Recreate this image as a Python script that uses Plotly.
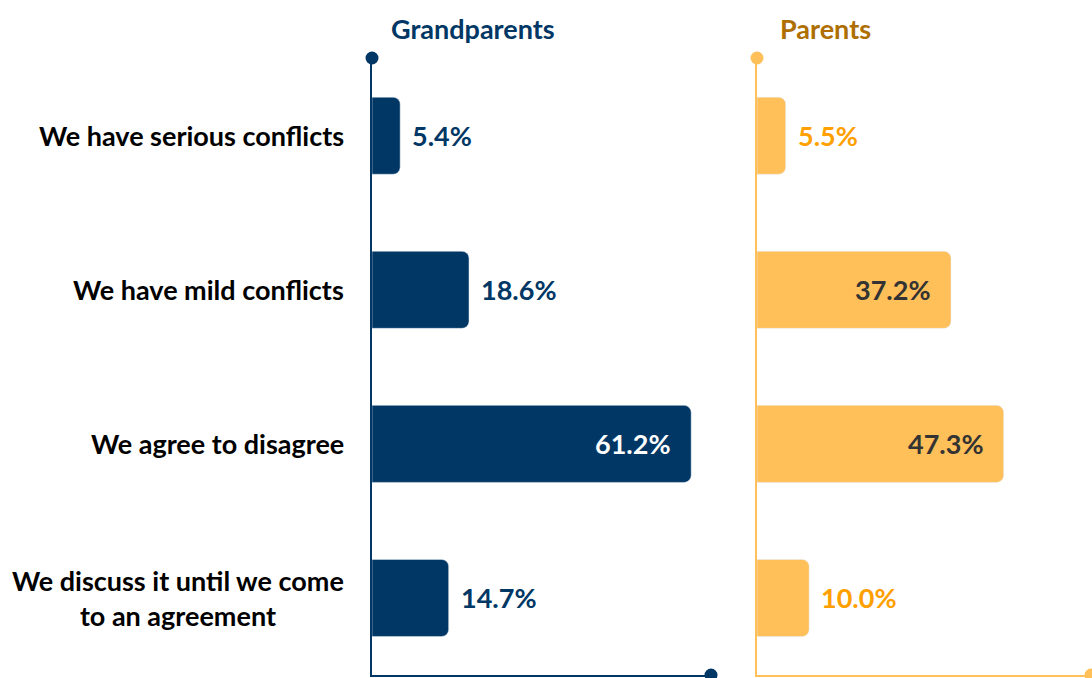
import plotly.graph_objects as go

categories = ["We have serious conflicts", "We have mild conflicts", "We agree to disagree",
              "We discuss it until we come<br>to an agreement"]
grandparents = [5.4, 18.6, 61.2, 14.7]
parents = [5.5, 37.2, 47.3, 10.0]
labels_gp = [f"{v:.1f}%" for v in grandparents]
labels_p = [f"{v:.1f}%" for v in parents]
inside_gp = [False, False, True, False]
inside_p = [False, True, True, False]

NAVY = "#003764"
YELLOW = "#FFBF59"
ORANGE = "#FFA000"
BROWN = "#AE6F00"
FONT = "Lato"
FS = 27

W, H = 1092, 678
x1d = [372 / W, 711 / W]
x2d = [757 / W, 1.0]
scale = (711 - 372) / 65.0
x2max = (W - 757) / scale
ydom = [3 / H, 1 - 58.7 / H]

fig = go.Figure()
fig.add_trace(go.Bar(x=grandparents, y=categories, orientation="h", marker=dict(color=NAVY, cornerradius=7),
                     xaxis="x", yaxis="y", hoverinfo="skip"))
fig.add_trace(go.Bar(x=parents, y=categories, orientation="h", marker=dict(color=YELLOW, cornerradius=7),
                     xaxis="x2", yaxis="y2", hoverinfo="skip"))

ann = []
for c, v, t, ins in zip(categories, grandparents, labels_gp, inside_gp):
    ann.append(dict(x=v, y=c, xref="x", yref="y", text=f"<b>{t}</b>", showarrow=False,
                    xanchor="right" if ins else "left", yanchor="middle", xshift=-18 if ins else 10,
                    font=dict(family=FONT, size=FS, color="white" if ins else NAVY)))
for c, v, t, ins in zip(categories, parents, labels_p, inside_p):
    ann.append(dict(x=v, y=c, xref="x2", yref="y2", text=f"<b>{t}</b>", showarrow=False,
                    xanchor="right" if ins else "left", yanchor="middle", xshift=-18 if ins else 10,
                    font=dict(family=FONT, size=FS, color="#333333" if ins else ORANGE)))
for c in categories:
    ann.append(dict(x=346 / W, y=c, xref="paper", yref="y", text=f"<b>{c}</b>", showarrow=False,
                    xanchor="right", yanchor="middle", align="center",
                    font=dict(family=FONT, size=FS, color="black")))
ann.append(dict(x=473 / W, y=1 - 28 / H, xref="paper", yref="paper", text="<b>Grandparents</b>",
                xanchor="center", yanchor="middle",
                showarrow=False, font=dict(family=FONT, size=FS, color=NAVY)))
ann.append(dict(x=825 / W, y=1 - 28 / H, xref="paper", yref="paper", text="<b>Parents</b>",
                xanchor="center", yanchor="middle",
                showarrow=False, font=dict(family=FONT, size=FS, color=BROWN)))

def dot(xp, yp, r, col):
    return dict(type="circle", xref="paper", yref="paper",
                x0=(xp - r) / W, x1=(xp + r) / W, y0=1 - (yp + r) / H, y1=1 - (yp - r) / H,
                fillcolor=col, line=dict(width=0), layer="above")

shapes = [dot(372, 58, 6.5, NAVY), dot(711, 675, 6.5, NAVY), dot(757, 58, 6.5, YELLOW), dot(1091, 675, 6.5, YELLOW)]

axis_common = dict(showgrid=False, zeroline=False, showticklabels=False, ticks="", fixedrange=True)
fig.update_layout(
    width=W, height=H, margin=dict(l=0, r=0, t=0, b=0),
    paper_bgcolor="white", plot_bgcolor="white", showlegend=False, bargap=0.5,
    xaxis=dict(domain=x1d, range=[0, 65], anchor="y", showline=True, linecolor=NAVY, linewidth=2, **axis_common),
    xaxis2=dict(domain=x2d, range=[0, x2max], anchor="y2", showline=True, linecolor=YELLOW, linewidth=2, **axis_common),
    yaxis=dict(domain=ydom, anchor="x", autorange="reversed", showline=True, linecolor=NAVY, linewidth=2,
               showgrid=False, showticklabels=False, ticks="", fixedrange=True),
    yaxis2=dict(domain=ydom, anchor="x2", autorange="reversed", showline=True, linecolor=YELLOW, linewidth=2,
                showgrid=False, showticklabels=False, ticks="", fixedrange=True),
    annotations=ann, shapes=shapes,
)
fig.write_html("out.html", config={"displayModeBar": False},
               post_script="document.body.style.margin='0';document.body.style.overflow='hidden';")
